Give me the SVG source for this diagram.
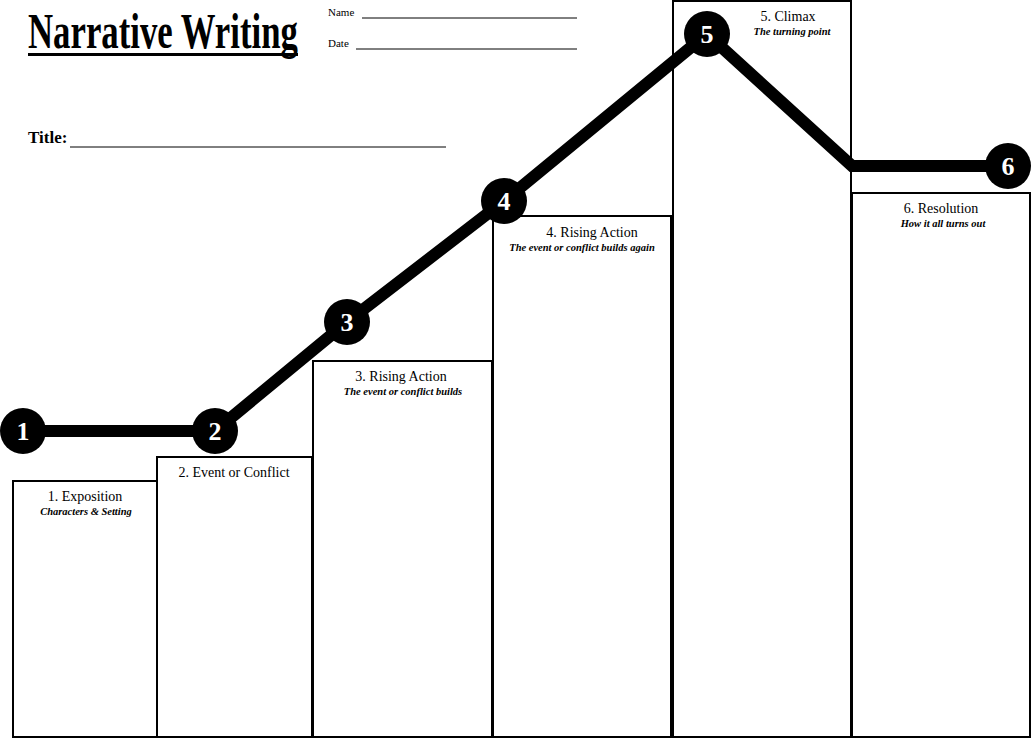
<svg xmlns="http://www.w3.org/2000/svg" width="1033" height="739" viewBox="0 0 1033 739">
<style>
.box{fill:#fff;stroke:#000;stroke-width:2}
.lbl{font-family:"Liberation Serif",serif;font-size:14px;text-anchor:middle;fill:#000}
.sub{font-family:"Liberation Serif",serif;font-size:10.5px;font-style:italic;font-weight:bold;text-anchor:middle;fill:#000}
.num{font-family:"Liberation Serif",serif;font-size:26px;font-weight:bold;fill:#fff;text-anchor:middle}
.hl{stroke:#000;stroke-width:1}
.small{font-family:"Liberation Serif",serif;font-size:11px;fill:#000}
</style>
<rect width="1033" height="739" fill="#fff"/>
<g id="header">
<text transform="translate(28,48) scale(0.695,1)" font-family="Liberation Serif,serif" font-weight="bold" font-size="50">Narrative Writing</text>
<rect x="28" y="53" width="270" height="3" fill="#000"/>
<text class="small" x="328" y="16">Name</text>
<line class="hl" x1="362" y1="18" x2="577" y2="18"/>
<text class="small" x="328" y="47">Date</text>
<line class="hl" x1="356" y1="49" x2="577" y2="49"/>
<text x="28" y="143" font-family="Liberation Serif,serif" font-weight="bold" font-size="17">Title:</text>
<line class="hl" x1="70" y1="147" x2="446" y2="147"/>
</g>
<g id="box1"><rect class="box" x="13" y="481" width="144" height="256"/><text class="lbl" x="85" y="501">1. Exposition</text><text class="sub" x="86" y="515">Characters &amp; Setting</text></g>
<g id="box2"><rect class="box" x="157" y="457" width="155" height="280"/><text class="lbl" x="234" y="477">2. Event or Conflict</text></g>
<g id="box3"><rect class="box" x="313" y="361" width="179" height="376"/><text class="lbl" x="401" y="381">3. Rising Action</text><text class="sub" x="403" y="395">The event or conflict builds</text></g>
<g id="box4"><rect class="box" x="493" y="216" width="178" height="521"/><text class="lbl" x="592" y="237">4. Rising Action</text><text class="sub" x="582" y="251">The event or conflict builds again</text></g>
<g id="box5"><rect class="box" x="673" y="1" width="178" height="736"/><text class="lbl" x="788" y="21">5. Climax</text><text class="sub" x="792" y="35">The turning point</text></g>
<g id="box6"><rect class="box" x="852" y="193" width="178" height="544"/><text class="lbl" x="941" y="213">6. Resolution</text><text class="sub" x="943" y="227">How it all turns out</text></g>
<g id="connectors">
<polyline points="23,431 215,431 347,322 504,201 707,34 852,166 1008,166" fill="none" stroke="#000" stroke-width="12" stroke-linejoin="miter"/>
</g>
<g id="n1"><circle cx="23" cy="431" r="23"/><text class="num" x="23" y="440">1</text></g>
<g id="n2"><circle cx="215" cy="431" r="23"/><text class="num" x="215" y="440">2</text></g>
<g id="n3"><circle cx="347" cy="322" r="23"/><text class="num" x="347" y="331">3</text></g>
<g id="n4"><circle cx="504" cy="201" r="23"/><text class="num" x="504" y="210">4</text></g>
<g id="n5"><circle cx="707" cy="34" r="23"/><text class="num" x="707" y="43">5</text></g>
<g id="n6"><circle cx="1008" cy="166" r="23"/><text class="num" x="1008" y="175">6</text></g>
</svg>
